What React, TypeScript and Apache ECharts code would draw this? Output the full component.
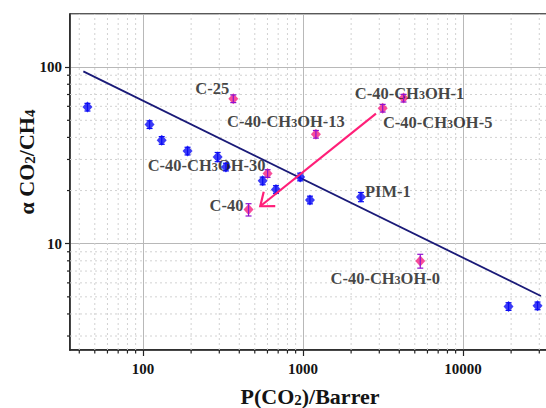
import React, { useEffect, useRef } from "react";
import * as echarts from "echarts";

// axis ranges and tick values
const X_MIN = 35;
const X_MAX = 35000;
const Y_MIN = 2.5;
const Y_MAX = 200;
const xMinorTicks = [40, 50, 60, 70, 80, 90, 200, 300, 400, 500, 600, 700, 800, 900, 2000, 3000, 4000, 5000, 6000, 7000, 8000, 9000, 20000, 30000];
const yMinorTicks = [3, 4, 5, 6, 7, 8, 9, 20, 30, 40, 50, 60, 70, 80, 90];

// blue series (literature membranes)
const blueX = [45, 110, 131, 190, 293, 330, 560, 678, 961, 1106, 2304, 19270, 29250];
const blueY = [59.4, 47.3, 38.5, 33.5, 31, 27.2, 22.7, 20.3, 23.9, 17.7, 18.4, 4.41, 4.45];
const blueErr = [0.05, 0.05, 0.05, 0.05, 0.06, 0.05, 0.05, 0.05, 0.05, 0.05, 0.06, 0.05, 0.05];
const blueNames = ["", "", "", "", "", "", "", "", "", "", "{m|PIM-1}", "", ""];

// magenta series (this work)
const pinkNames = [
  "{m|C-25}",
  "{m|C-40-CH}{s|3}{m|OH-13}",
  "{m|C-40-CH}{s|3}{m|OH-30}",
  "{m|C-40}",
  "{m|C-40-CH}{s|3}{m|OH-5}",
  "{m|C-40-CH}{s|3}{m|OH-1}",
  "{m|C-40-CH}{s|3}{m|OH-0}",
];
const pinkX = [367, 1205, 601, 457, 3150, 4254, 5410];
const pinkY = [66.3, 41.7, 25, 15.6, 58.6, 66.8, 7.99];
const pinkErr = [0.05, 0.05, 0.05, 0.08, 0.05, 0.05, 0.09];

// upper bound line
const boundX = [42.4, 30700];
const boundY = [94.6, 5.06];

// arrow
const arrowFrom = [2860, 54.6];
const arrowTo = [541, 16.3];

// label layout offsets (px)
const pinkLabelOffsets = [[-21, -11], [-30, -13], [-61, -8], [-22, -5], [55, 14], [6, -5], [-35, 17]];
const blueLabelOffsets: Record<number, number[]> = { 10: [27, -6] };

const FONT = "'Liberation Serif', 'Times New Roman', serif";
const BLUE = "#0a0af5";
const PINK = "#f5207f";
const PURPLE = "#9010d0";
const NAVY = "#1a1a78";
const ARROW = "#ff1f78";
const INK = "#141414";

const mainStyle = { fontSize: 16.5, fontWeight: "bold", fontFamily: FONT, verticalAlign: "top", lineHeight: 16, color: INK };
const subStyle = { fontSize: 12, fontWeight: "bold", fontFamily: FONT, verticalAlign: "bottom", lineHeight: 12, padding: [10, 0, 0, 0], color: INK };
const nameMain = { fontSize: 22, fontWeight: "bold", fontFamily: FONT, verticalAlign: "top", lineHeight: 22, color: INK };
const nameSub = { fontSize: 15, fontWeight: "bold", fontFamily: FONT, verticalAlign: "bottom", lineHeight: 15, padding: [12, 0, 0, 0], color: INK };

function errRender(color: string) {
  return (params: any, api: any) => {
    const x = api.value(0);
    const y = api.value(1);
    const e = api.value(2);
    const t = api.coord([x, y * (1 + e)]);
    const b = api.coord([x, y * (1 - e)]);
    const st = { stroke: color, lineWidth: 1.2 };
    return {
      type: "group",
      children: [
        { type: "line", shape: { x1: t[0], y1: t[1], x2: b[0], y2: b[1] }, style: st },
        { type: "line", shape: { x1: t[0] - 3, y1: t[1], x2: t[0] + 3, y2: t[1] }, style: st },
        { type: "line", shape: { x1: b[0] - 3, y1: b[1], x2: b[0] + 3, y2: b[1] }, style: st },
      ],
    };
  };
}

export default function App() {
  const ref = useRef<HTMLDivElement>(null);
  useEffect(() => {
    if (!ref.current) return;
    const chart = echarts.init(ref.current, undefined, { renderer: "svg" });
    const labelBase = {
      show: true,
      position: "inside",
      formatter: (p: any) => p.name,
      rich: { m: mainStyle, s: subStyle },
    };
    const option: any = {
      animation: false,
      textStyle: { fontFamily: FONT },
      grid: {
        left: 70, top: 14, width: 480, height: 336,
        outerBoundsMode: "none", containLabel: false,
        show: true, borderColor: "#222", borderWidth: 1.5, backgroundColor: "#fff",
      },
      xAxis: {
        type: "log",
        logBase: 10,
        min: X_MIN,
        max: X_MAX,
        name: "{m|P(CO}{s|2}{m|)/Barrer}",
        nameLocation: "middle",
        nameGap: 33,
        nameTextStyle: { rich: { m: nameMain, s: nameSub } },
        axisLine: { show: true, lineStyle: { color: "#222", width: 1.5 } },
        axisTick: { show: true, inside: false, length: 6, lineStyle: { color: "#222", width: 1.2 } },
        axisLabel: {
          showMinLabel: false, showMaxLabel: false, margin: 11,
          formatter: (v: number) => String(Math.round(v)),
          fontFamily: FONT, fontWeight: "bold", fontSize: 15, color: INK,
        },
        splitLine: { show: true, lineStyle: { color: "#b8b8b8", width: 1 } },
      },
      yAxis: {
        type: "log",
        logBase: 10,
        min: Y_MIN,
        max: Y_MAX,
        axisLine: { show: true, lineStyle: { color: "#222", width: 1.5 } },
        axisTick: { show: true, inside: false, length: 5, lineStyle: { color: "#222", width: 1.2 } },
        axisLabel: {
          showMinLabel: false, showMaxLabel: false, margin: 8,
          formatter: (v: number) => String(Math.round(v)),
          fontFamily: FONT, fontWeight: "bold", fontSize: 15, color: INK,
        },
        splitLine: { show: true, lineStyle: { color: "#b8b8b8", width: 1 } },
      },
      graphic: [
        {
          type: "text",
          x: 26,
          y: 162,
          rotation: Math.PI / 2,
          style: {
            text: "{m|α CO}{s|2}{m|/CH}{s|4}",
            align: "center",
            verticalAlign: "middle",
            rich: { m: { ...nameMain, fill: INK }, s: { ...nameSub, fill: INK } },
          },
        },
      ],
      series: [
        {
          type: "custom",
          silent: true,
          z: 1,
          data: xMinorTicks.map((v) => [v, Y_MIN]),
          renderItem: (params: any, api: any) => {
            const v = api.value(0);
            const p0 = api.coord([v, Y_MIN]);
            const p1 = api.coord([v, Y_MAX]);
            return {
              type: "group",
              children: [
                { type: "line", shape: { x1: p0[0], y1: p0[1], x2: p1[0], y2: p1[1] }, style: { stroke: "#d2d2d2", lineWidth: 1, lineDash: [2, 3] } },
                { type: "line", shape: { x1: p0[0], y1: p0[1], x2: p0[0], y2: p0[1] + 3.5 }, style: { stroke: "#222", lineWidth: 1.2 } },
              ],
            };
          },
        },
        {
          type: "custom",
          silent: true,
          z: 1,
          data: yMinorTicks.map((v) => [X_MIN, v]),
          renderItem: (params: any, api: any) => {
            const v = api.value(1);
            const p0 = api.coord([X_MIN, v]);
            const p1 = api.coord([X_MAX, v]);
            return {
              type: "group",
              children: [
                { type: "line", shape: { x1: p0[0], y1: p0[1], x2: p1[0], y2: p1[1] }, style: { stroke: "#d2d2d2", lineWidth: 1, lineDash: [2, 3] } },
                { type: "line", shape: { x1: p0[0], y1: p0[1], x2: p0[0] - 3, y2: p0[1] }, style: { stroke: "#222", lineWidth: 1.2 } },
              ],
            };
          },
        },
        {
          type: "line",
          z: 3,
          silent: true,
          symbol: "none",
          data: boundX.map((x, i) => [x, boundY[i]]),
          lineStyle: { color: NAVY, width: 1.8 },
        },
        {
          type: "scatter",
          z: 4,
          symbol: "diamond",
          symbolSize: [10, 11],
          itemStyle: { color: BLUE },
          data: blueX.map((x, i) => ({
            value: [x, blueY[i]],
            name: blueNames[i],
            label: blueNames[i] ? { ...labelBase, offset: blueLabelOffsets[i] } : { show: false },
          })),
        },
        {
          type: "custom",
          z: 5,
          silent: true,
          data: blueX.map((x, i) => [x, blueY[i], blueErr[i]]),
          renderItem: errRender(BLUE),
        },
        {
          type: "scatter",
          z: 4,
          symbol: "diamond",
          symbolSize: [10, 11],
          itemStyle: { color: PINK },
          data: pinkX.map((x, i) => ({
            value: [x, pinkY[i]],
            name: pinkNames[i],
            label: { ...labelBase, offset: pinkLabelOffsets[i] },
          })),
        },
        {
          type: "custom",
          z: 5,
          silent: true,
          data: pinkX.map((x, i) => [x, pinkY[i], pinkErr[i]]),
          renderItem: errRender(PURPLE),
        },
        {
          type: "custom",
          z: 6,
          silent: true,
          data: [[arrowFrom[0], arrowFrom[1], arrowTo[0], arrowTo[1]]],
          renderItem: (params: any, api: any) => {
            const a = api.coord([api.value(0), api.value(1)]);
            const b = api.coord([api.value(2), api.value(3)]);
            const ang = Math.atan2(a[1] - b[1], a[0] - b[0]);
            const L = 15;
            const spread = (38 * Math.PI) / 180;
            const h1 = [b[0] + L * Math.cos(ang - spread), b[1] + L * Math.sin(ang - spread)];
            const h2 = [b[0] + L * Math.cos(ang + spread), b[1] + L * Math.sin(ang + spread)];
            const st = { stroke: ARROW, lineWidth: 2.2, fill: null };
            return {
              type: "group",
              children: [
                { type: "line", shape: { x1: a[0], y1: a[1], x2: b[0], y2: b[1] }, style: st },
                { type: "polyline", shape: { points: [h1, b, h2] }, style: st },
              ],
            };
          },
        },
      ],
    };
    chart.setOption(option);
    return () => chart.dispose();
  }, []);
  return (
    <div style={{ position: "absolute", left: 0, top: 0, width: 546, height: 408, overflow: "hidden", background: "#fff" }}>
      <div ref={ref} style={{ width: 550, height: 408 }} />
    </div>
  );
}
